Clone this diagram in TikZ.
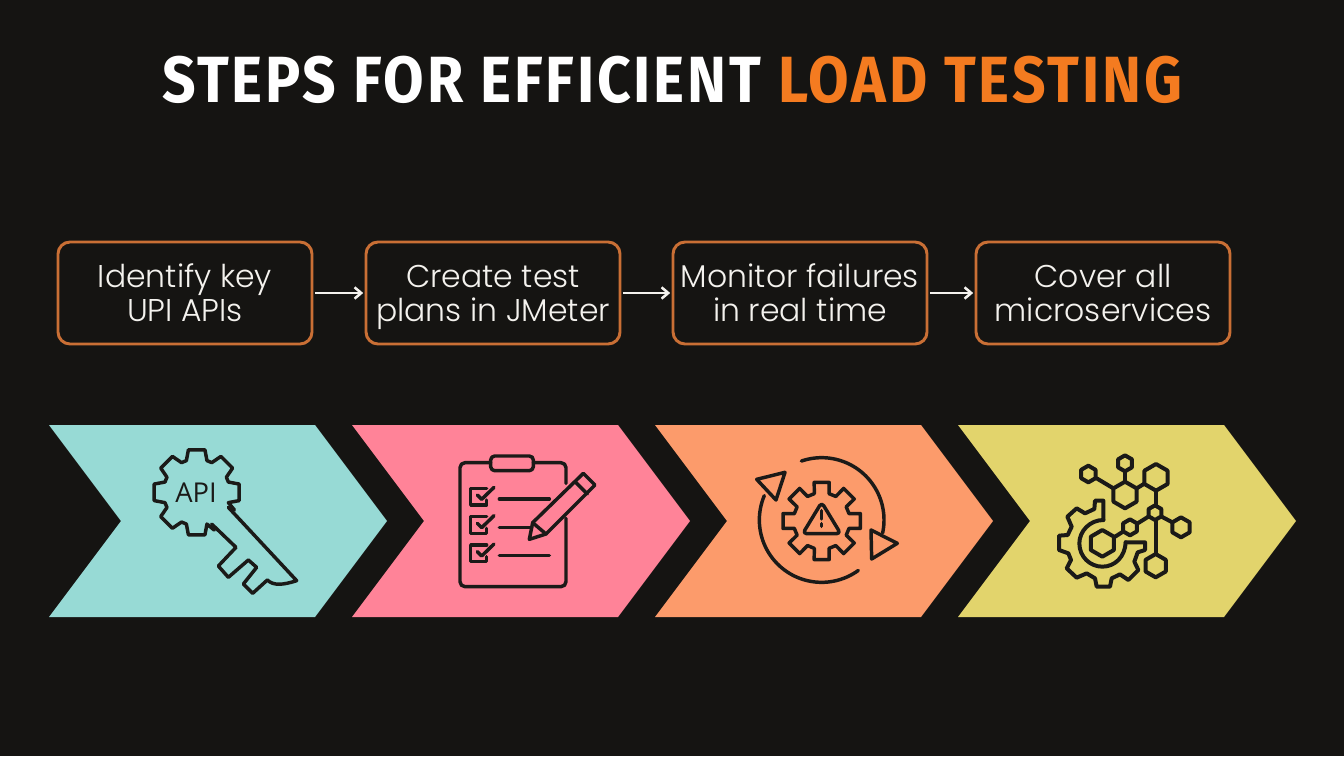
\documentclass[tikz,border=0pt]{standalone}
\usepackage{fontspec}
\setmainfont{Poppins Light}
\newfontfamily\titlefont[LetterSpace=4.4,FakeStretch=0.9]{Fira Sans Bold}
\newfontfamily\apifont{Open Sans}
\usetikzlibrary{arrows.meta}
\definecolor{bg}{HTML}{151412}
\definecolor{boxedge}{HTML}{C96F35}
\definecolor{titleorange}{HTML}{F47B20}
\definecolor{teal1}{HTML}{97DAD5}
\definecolor{pink1}{HTML}{FF8398}
\definecolor{orange1}{HTML}{FC9B6B}
\definecolor{yellow1}{HTML}{E2D46C}
\definecolor{ink}{HTML}{1B1A18}
\definecolor{linktext}{HTML}{F4F2EE}
\newcommand{\twolines}[2]{\rule{0pt}{23.5pt}#1\\#2\rule[-7pt]{0pt}{7pt}}
\tikzset{
  stepbox/.style={draw=boxedge,line width=2.2pt,rounded corners=9pt,minimum width=190.5pt,minimum height=76.5pt,
    inner sep=0pt,text=linktext,align=center,font=\fontsize{23.6}{25.5}\selectfont},
  flow/.style={draw=linktext,line width=1.9pt,-{Straight Barb[length=5pt,width=8.5pt]},shorten >=1pt,shorten <=1pt},
  chev/.style={fill=#1,draw=none},
  icon/.style={draw=ink,line width=2.6pt,line join=round,line cap=round},
  zoomed/.style={x=.25pt,y=-.25pt}
}
\newcommand{\hexa}[3]{(#1+#3*0,#2-#3) -- (#1+#3*.866,#2-#3*.5) -- (#1+#3*.866,#2+#3*.5) -- (#1,#2+#3) -- (#1-#3*.866,#2+#3*.5) -- (#1-#3*.866,#2-#3*.5) -- cycle}
\begin{document}
\begin{tikzpicture}[x=.75pt,y=-.75pt]
\useasboundingbox (0,0) rectangle (1344,756);
\fill[bg] (0,0) rectangle (1344,756);
\node[anchor=center,inner sep=0pt,font=\titlefont\fontsize{49}{55}\selectfont] (title) at (672,80)
  {\textcolor{white}{STEPS FOR EFFICIENT} \textcolor{titleorange}{LOAD TESTING}};
\node[stepbox] (s1) at (185,293) {\twolines{Identify key}{UPI APIs}};
\node[stepbox] (s2) at (493,293) {\twolines{Create test}{plans in JMeter}};
\node[stepbox] (s3) at (800,293) {\twolines{Monitor failures}{in real time}};
\node[stepbox] (s4) at (1103,293) {\twolines{Cover all}{microservices}};
\draw[flow] (s1) -- (s2);
\draw[flow] (s2) -- (s3);
\draw[flow] (s3) -- (s4);
\foreach \dx/\c in {0/teal1,303/pink1,606/orange1,909/yellow1}{
  \fill[chev=\c] (49+\dx,425) -- (315+\dx,425) -- (387+\dx,521) -- (315+\dx,617) -- (49+\dx,617) -- (121+\dx,521) -- cycle;
}
% key
\begin{scope}[shift={(130,430)},zoomed]
  \draw[icon] (245,282) -- (318,352) -- (265,408) -- (295,442) -- (355,390) -- (380,412) -- (340,462) -- (368,490) -- (412,450)
     .. controls (430,468) and (460,465) .. (500,452) -- (295,232);
  \begin{scope}[shift={(200,187)}]
    \draw[icon] (65:125) \foreach \a in {90,135,180,225,270,315,360}{ -- (\a-18:100) -- (\a-11:130) -- (\a+11:130) -- (\a+18:100)} -- (25:125);
  \end{scope}
  \node[text=ink,inner sep=0pt,font=\apifont\fontsize{20.5}{22}\selectfont] (api) at (198,189) {API};
\end{scope}
% clipboard
\begin{scope}[shift={(440,440)},zoomed]
  \draw[icon] (152,68) -- (75,68) to[out=180,in=90] (60,83) -- (60,425) to[out=-90,in=180] (75,440) -- (363,440) to[out=0,in=-90] (378,425) -- (378,235);
  \draw[icon] (280,68) -- (363,68) to[out=0,in=90] (378,83) -- (378,130);
  \draw[icon,rounded corners=3pt] (152,48) rectangle (280,92);
  \foreach \dy/\e in {0/328,85/275,170/328}{
    \draw[icon] (140,145+\dy) -- (92,145+\dy) -- (92,195+\dy) -- (140,195+\dy) -- (140,180+\dy);
    \draw[icon] (112,165+\dy) -- (125,178+\dy) -- (162,142+\dy);
    \draw[icon] (178,177+\dy) -- (\e,177+\dy);
  }
  \draw[icon] (268,298) -- (278,248) -- (430,100) -- (465,135) -- (318,282) -- cycle;
  \draw[icon] (278,248) -- (318,282);
  \draw[icon] (405,125) -- (442,162);
\end{scope}
% gear with warning
\begin{scope}[shift={(740,445)},zoomed]
  \draw[icon] plot[smooth,domain=251:372,samples=50] ({245+187*cos(\x)},{225+187*sin(\x)});
  \draw[icon] plot[smooth,domain=54:203,samples=50] ({245+187*cos(\x)},{225+187*sin(\x)});
  \draw[icon] (393,255) -- (472,295) -- (395,342) -- cycle;
  \draw[icon] (50,103) -- (135,82) -- (108,165) -- cycle;
  \begin{scope}[shift={(245,228)}]
    \draw[icon] (-15:85) \foreach \a in {0,45,...,315}{ -- (\a-15:85) -- (\a-11:118) -- (\a+11:118) -- (\a+15:85)} -- cycle;
  \end{scope}
  \draw[icon,rounded corners=3pt] (245,172) -- (302,266) -- (188,266) -- cycle;
  \draw[icon] (245,197) -- (245,222);
  \draw[icon] (245,236) -- (245,244);
\end{scope}
% microservices
\begin{scope}[shift={(1045,445)},zoomed,icon/.append style={line width=3pt}]
  \draw[icon] \hexa{240}{55}{24};
  \draw[icon] \hexa{130}{87}{25};
  \draw[icon] \hexa{333}{97}{40};
  \draw[icon] \hexa{240}{150}{40};
  \draw[icon] \hexa{330}{203}{22};
  \draw[icon] \hexa{255}{247}{24};
  \draw[icon] \hexa{408}{247}{30};
  \draw[icon] \hexa{172}{295}{40};
  \draw[icon] \hexa{332}{362}{35};
  \draw[icon] (240,80) -- (240,110);
  \draw[icon] (155,100) -- (205,130);
  \draw[icon] (275,130) -- (298,116);
  \draw[icon] (333,137) -- (333,181);
  \draw[icon] (310,215) -- (278,235);
  \draw[icon] (350,215) -- (382,232);
  \draw[icon] (332,225) -- (332,327);
  \draw[icon] (234,260) -- (207,277);
  \draw[icon] (175,225) -- (175,167) -- (150,167) -- (148,192) -- (120,205) -- (95,190) -- (67,215) -- (80,245) -- (68,270) -- (42,272) -- (42,315) -- (70,325) -- (78,345) -- (65,370) -- (95,398) -- (125,385) -- (150,400) -- (155,425) -- (195,425) -- (200,400) -- (225,388) -- (250,405) -- (280,375) -- (268,350) -- (278,322) -- (300,315) -- (300,292) -- (242,292);
  \draw[icon] (242,292) .. controls (240,335) and (210,365) .. (172,365) .. controls (135,365) and (103,335) .. (103,295) .. controls (103,258) and (135,225) .. (175,225);
\end{scope}
\end{tikzpicture}
\end{document}
